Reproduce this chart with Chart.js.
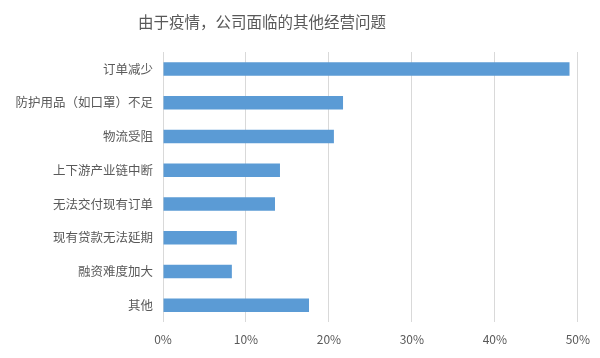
<!DOCTYPE html>
<html>
<head>
<meta charset="utf-8">
<script src="https://cdn.jsdelivr.net/npm/chart.js@4/dist/chart.umd.min.js"></script>
<style>
  html, body { margin: 0; padding: 0; background: #fff; }
  #wrap { width: 600px; height: 358px; }
</style>
</head>
<body>
<div id="wrap"><canvas id="myChart" width="600" height="358"></canvas></div>
<script>
var categories = ["订单减少", "防护用品（如口罩）不足", "物流受阻", "上下游产业链中断",
                  "无法交付现有订单", "现有贷款无法延期", "融资难度加大", "其他"];
var shares = [0.490, 0.217, 0.206, 0.141, 0.135, 0.089, 0.083, 0.176];
var xTicks = [0, 0.1, 0.2, 0.3, 0.4, 0.5];
var chartTitle = "由于疫情，公司面临的其他经营问题";

var font = "'Noto Sans CJK SC', 'Noto Sans', sans-serif";
var grey = "#595959";

// title sits left of the canvas centre in the original, so draw it ourselves
var titlePlugin = {
    id: "offsetTitle",
    afterDraw: function(chart) {
        var c = chart.ctx;
        c.save();
        c.font = "15.5px " + font;
        c.fillStyle = grey;
        c.textAlign = "center";
        c.textBaseline = "middle";
        c.fillText(chartTitle, 262, 22);
        c.restore();
    }
};

var ctx = document.getElementById("myChart").getContext("2d");
var myChart = new Chart(ctx, {
    type: "bar",
    data: {
        labels: categories,
        datasets: [{
            data: shares,
            backgroundColor: "#5b9bd5",
            borderWidth: 0,
            barPercentage: 0.4,
            categoryPercentage: 1.0
        }]
    },
    options: {
        indexAxis: "y",
        responsive: false,
        animation: false,
        devicePixelRatio: 1,
        layout: { padding: { left: 0, right: 19, top: 52, bottom: 0 } },
        plugins: {
            legend: { display: false },
            tooltip: { enabled: false },
            title: { display: false }
        },
        scales: {
            x: {
                min: 0,
                max: 0.5,
                afterBuildTicks: function(scale) {
                    scale.ticks = xTicks.map(function(v) { return { value: v }; });
                },
                afterFit: function(scale) { scale.height = 36; },
                border: { display: false },
                grid: { color: "#d9d9d9", drawTicks: false, lineWidth: 1 },
                ticks: {
                    color: grey,
                    padding: 10,
                    maxRotation: 0,
                    font: { family: font, size: 12 },
                    callback: function(v) { return Math.round(v * 100) + "%"; }
                }
            },
            y: {
                afterFit: function(scale) { scale.width = 163; },
                border: { display: false },
                grid: { display: false, drawTicks: false },
                ticks: {
                    color: grey,
                    padding: 10,
                    autoSkip: false,
                    font: { family: font, size: 12.5 }
                }
            }
        }
    },
    plugins: [titlePlugin]
});
</script>
</body>
</html>
